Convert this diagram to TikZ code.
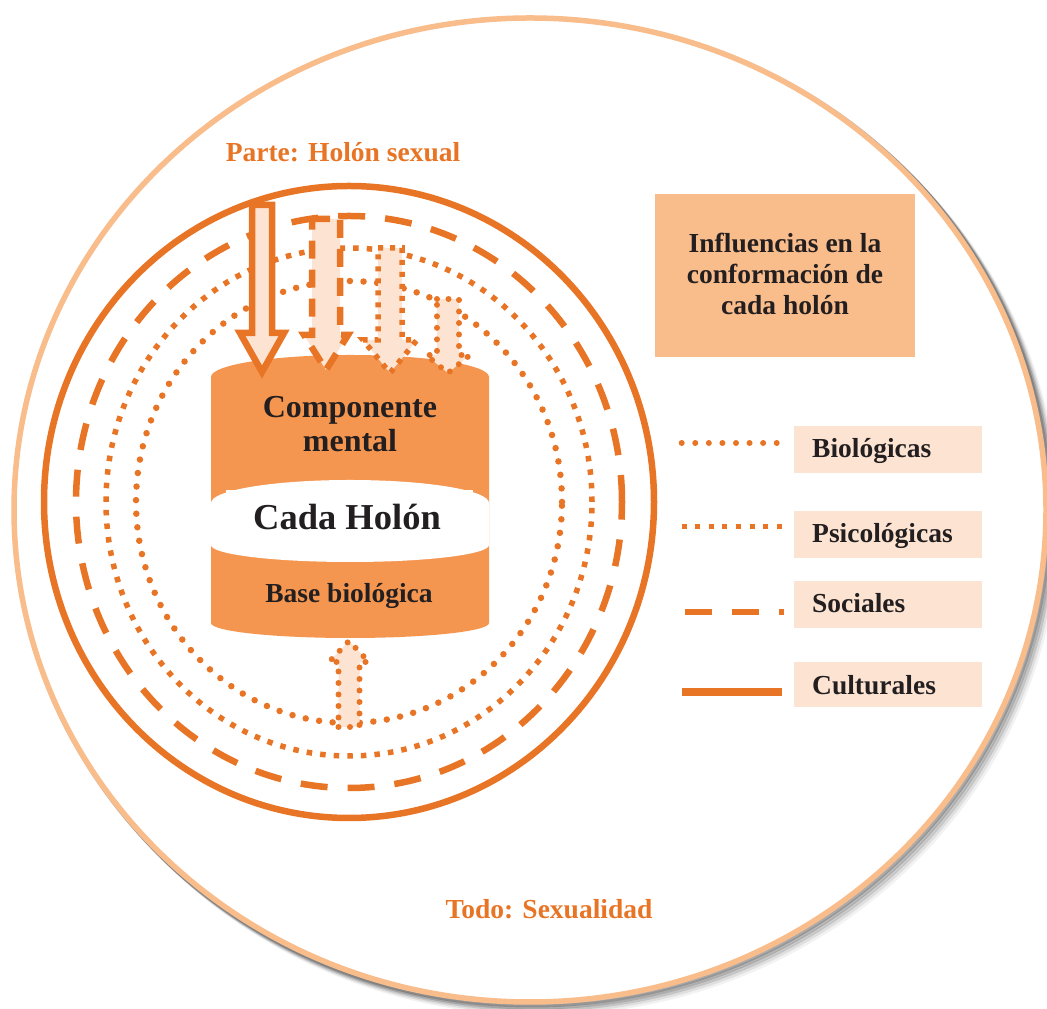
\documentclass[tikz,border=0pt]{standalone}
\usepackage{fontspec}
\setmainfont{Liberation Serif}
\definecolor{horange}{RGB}{232,117,38}
\definecolor{hcyl}{RGB}{245,150,80}
\definecolor{hpeach}{RGB}{253,228,210}
\definecolor{hlight}{RGB}{249,188,139}
\definecolor{htext}{RGB}{35,31,32}
\begin{document}
\begin{tikzpicture}[x=1pt,y=1pt,
  solidring/.style={draw=horange, line width=6.5},
  dashring/.style={draw=horange, line width=6.5, dash pattern=on 27pt off 20pt},
  sqring/.style={draw=horange, line width=5.5, dash pattern=on 5.5pt off 8.1pt},
  dotring/.style={draw=horange, line width=6.5, line cap=round, dash pattern=on 0pt off 13.6pt},
  arrowsolid/.style={fill=hpeach, draw=horange, line width=6.5, line join=miter},
  arrowdash/.style={fill=hpeach, draw=horange, line width=6.5, dash pattern=on 18pt off 11pt},
  arrowsq/.style={fill=hpeach, draw=horange, line width=5.5, dash pattern=on 5pt off 7pt},
  arrowdot/.style={fill=hpeach, draw=horange, line width=6, line cap=round, dash pattern=on 0pt off 11.5pt},
  txt/.style={inner sep=0, text=htext, anchor=base, font=\bfseries\fontsize{27.5}{31}\selectfont},
  otxt/.style={inner sep=0, text=horange, anchor=base, font=\bfseries\fontsize{27.5}{31}\selectfont},
  legbox/.style={fill=hpeach, minimum width=188, minimum height=47, inner sep=0, anchor=south west},
  legtxt/.style={txt, anchor=base west}
]
\useasboundingbox (0,0) rectangle (1047,1009);
\clip (0,0) rectangle (1047,1009);

% outer circle with shadow
\coordinate (oc) at (530,499);
\foreach \o/\a in {10/0.05,8/0.08,6/0.12,4/0.16,2/0.2}
  \draw[black, opacity=\a, line width=7] ([shift={(\o,-\o)}]oc) ellipse [x radius=516, y radius=492];
\fill[white] (oc) ellipse [x radius=516, y radius=492];
\draw[hlight, line width=5.5] (oc) ellipse [x radius=516, y radius=492];

% rings
\coordinate (rc) at (349,507);
\draw[solidring] (rc) ellipse [x radius=305, y radius=316];
\draw[dashring] (rc) ellipse [x radius=273, y radius=286];
\draw[sqring] (rc) ellipse [x radius=243, y radius=254];
\draw[dotring] (rc) ellipse [x radius=213, y radius=221];

% cylinder
\fill[hcyl] (211,632) arc[start angle=180, end angle=0, x radius=139, y radius=22]
  -- (489,386) arc[start angle=0, end angle=-180, x radius=139, y radius=15] -- cycle;
\fill[white] (211,506) arc[start angle=180, end angle=0, x radius=139, y radius=23]
  -- (489,464) arc[start angle=0, end angle=-180, x radius=139, y radius=17] -- cycle;
\fill[white] (226,505) rectangle (473,519);

\node[txt, font=\bfseries\fontsize{32}{34}\selectfont] (comp1) at (350,591) {Componente};
\node[txt, font=\bfseries\fontsize{32}{34}\selectfont] (comp2) at (350,557) {mental};
\node[txt, font=\bfseries\fontsize{36.5}{40}\selectfont] (cada) at (347,479) {Cada Holón};
\node[txt] (base) at (349,406) {Base biológica};

% arrows from top
\draw[arrowsolid] (252,804) -- (272,804) -- (272,676) -- (284,676) -- (262,637) -- (240,676) -- (252,676) -- cycle;
\draw[arrowdash] (312,790) -- (340,790) -- (340,674) -- (348,674) -- (326,639) -- (304,674) -- (312,674) -- cycle;
\draw[arrowsq] (378,761) -- (402,761) -- (402,669) -- (417,669) -- (390,636) -- (363,669) -- (378,669) -- cycle;
\draw[arrowdot] (437,710) -- (459,710) -- (459,654) -- (470,654) -- (448,636) -- (426,654) -- (437,654) -- cycle;
% arrow from bottom
\draw[arrowdot] (338.5,282) -- (359.5,282) -- (359.5,347) -- (369,347) -- (349,368) -- (329,347) -- (338.5,347) -- cycle;

% titles
\node[otxt] (parte) at (343,847) {Parte: Holón sexual};
\node[otxt] (todo) at (549,90) {Todo: Sexualidad};

% influence box
\node[fill=hlight, minimum width=260, minimum height=163, inner sep=0] (infl) at (785,733.5) {};
\node[txt] (infl1) at (785,756) {Influencias en la};
\node[txt] (infl2) at (785,725) {conformación de};
\node[txt] (infl3) at (785,694) {cada holón};

% legend
\node[legbox] (lb1) at (794,536) {};
\node[legbox] (lb2) at (794,451) {};
\node[legbox] (lb3) at (794,381) {};
\node[legbox, minimum height=45] (lb4) at (794,302) {};
\node[legtxt] (lt1) at (812,551) {Biológicas};
\node[legtxt] (lt2) at (812,466) {Psicológicas};
\node[legtxt] (lt3) at (812,396) {Sociales};
\node[legtxt] (lt4) at (812,314) {Culturales};

\coordinate (l1a) at (681.7,566); \coordinate (l1b) at (777,566);
\coordinate (l2a) at (681.7,482); \coordinate (l2b) at (782,482);
\coordinate (l3a) at (685,397);   \coordinate (l3b) at (784,397);
\coordinate (l4a) at (682,317);   \coordinate (l4b) at (782,317);
\draw[horange, line width=6, line cap=round, dash pattern=on 0pt off 13.57pt] (l1a) -- (l1b);
\draw[horange, line width=5, dash pattern=on 5pt off 8.57pt] (l2a) -- (l2b);
\draw[horange, line width=6.3, dash pattern=on 27pt off 20pt] (l3a) -- (l3b);
\draw[horange, line width=7.5] (l4a) -- (l4b);
\end{tikzpicture}
\end{document}
